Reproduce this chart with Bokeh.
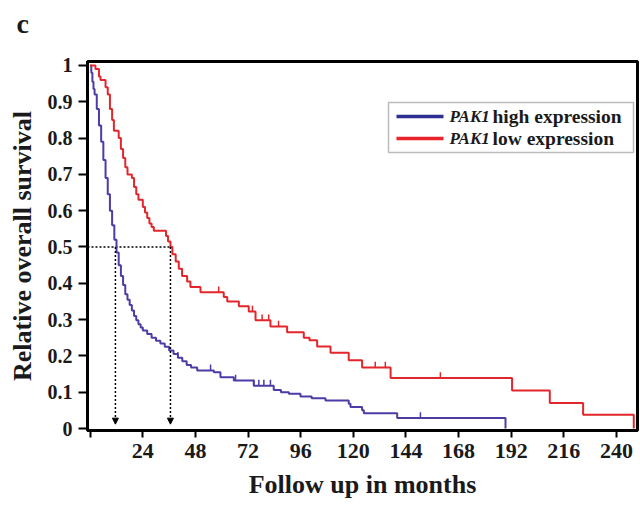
import numpy as np
from bokeh.plotting import figure
from bokeh.models import Range1d, FixedTicker, Label, BoxAnnotation, Arrow, NormalHead, Title
from bokeh.embed import file_html
from bokeh.resources import INLINE

# ---- data ----
high_t = [0, 0.5, 1, 1.5, 2, 3, 4, 5, 6, 7, 8, 9, 10, 11, 12, 13, 14, 15, 16, 17, 18,
          19, 20, 21, 22, 23, 24, 26, 28, 30, 32, 34, 36, 38, 40, 42, 44, 46, 48.8,
          56.4, 59.4, 65.5, 74.6, 83.7, 87, 90.6, 95.9, 101, 107.3, 117.9, 118.7, 124,
          124.8, 140, 189.4]
high_s = [1.0, 0.98, 0.955, 0.935, 0.92, 0.88, 0.835, 0.79, 0.74, 0.69, 0.645, 0.6,
          0.56, 0.52, 0.485, 0.45, 0.42, 0.395, 0.37, 0.355, 0.34, 0.325, 0.31, 0.298,
          0.287, 0.278, 0.27, 0.26, 0.25, 0.242, 0.234, 0.225, 0.215, 0.205, 0.195,
          0.185, 0.175, 0.168, 0.16, 0.155, 0.141, 0.132, 0.118, 0.106, 0.1, 0.096,
          0.088, 0.083, 0.077, 0.068, 0.059, 0.05, 0.042, 0.029, 0.0]

low_t = [0, 2.4, 4, 4.7, 7, 8, 9, 10, 10.8, 13, 14, 15, 16, 17, 19, 20, 21, 22, 24,
         25, 26, 27, 28, 29, 34.6, 35.5, 36.6, 37.5, 39, 40.4, 41.9, 44.2, 45.7, 50.3,
         60.9, 62.5, 67.8, 72.3, 75.4, 82.2, 89.8, 97.4, 100, 103.5, 109.6, 117.9, 124,
         137, 192.4, 209.6, 224.8, 247.9]
low_s = [1.0, 0.99, 0.97, 0.96, 0.94, 0.92, 0.88, 0.85, 0.82, 0.8, 0.77, 0.745, 0.72,
         0.7, 0.69, 0.665, 0.645, 0.63, 0.61, 0.595, 0.58, 0.565, 0.555, 0.545, 0.53,
         0.515, 0.5, 0.48, 0.46, 0.44, 0.42, 0.405, 0.39, 0.375, 0.362, 0.35, 0.337,
         0.322, 0.298, 0.281, 0.265, 0.25, 0.243, 0.226, 0.209, 0.188, 0.168, 0.139,
         0.105, 0.07, 0.038, 0.0]

high_censor = [40, 54.9, 66.3, 74.6, 76.9, 79.2, 82.2, 150.6]
low_censor = [58.6, 74, 78.4, 81.4, 85.9, 130, 134.6, 159.7]

median_high = 11.5
median_low = 36.6
median_level = 0.5

x_ticks = [0, 24, 48, 72, 96, 120, 144, 168, 192, 216, 240]
x_labels = ["", "24", "48", "72", "96", "120", "144", "168", "192", "216", "240"]
y_ticks = [0, 0.1, 0.2, 0.3, 0.4, 0.5, 0.6, 0.7, 0.8, 0.9, 1]
y_labels = ["0", "0.1", "0.2", "0.3", "0.4", "0.5", "0.6", "0.7", "0.8", "0.9", "1"]

series_names = ["high expression", "low expression"]
gene = "PAK1"

BLUE = "#4b3ca6"
RED = "#e3262b"
LEG_BLUE = "#2e2f92"
LEG_RED = "#e8232a"
FONT = "Liberation Serif"

p = figure(width=640, height=509, output_backend="svg", toolbar_location=None,
           x_range=Range1d(-1.23, 249.6), y_range=Range1d(-0.0055, 1.011),
           min_border_left=87, min_border_top=61, min_border_right=3,
           min_border_bottom=79)
p.grid.visible = False
p.outline_line_color = "black"
p.outline_line_width = 3
p.background_fill_color = "white"
p.border_fill_color = "white"

for ax in (p.xaxis[0], p.yaxis[0]):
    ax.axis_line_width = 3
    ax.axis_line_color = "black"
    ax.major_tick_line_width = 2
    ax.major_tick_line_color = "black"
    ax.minor_tick_line_color = None
    ax.major_tick_in = 0
    ax.major_label_text_font = FONT
    ax.major_label_text_font_style = "bold"
    ax.major_label_text_color = "#1a1a1a"
    ax.axis_label_text_font = FONT
    ax.axis_label_text_font_style = "bold"
    ax.axis_label_text_color = "#1a1a1a"

p.xaxis.ticker = FixedTicker(ticks=x_ticks)
p.xaxis.major_label_overrides = dict(zip(x_ticks, x_labels))
p.xaxis.major_tick_out = 7
p.xaxis.major_label_standoff = 6
p.xaxis.major_label_text_font_size = "22px"
p.xaxis.axis_label = "Follow up in months"
p.xaxis.axis_label_text_font_size = "26px"
p.xaxis.axis_label_standoff = 9

p.yaxis.ticker = FixedTicker(ticks=y_ticks)
p.yaxis.major_label_overrides = dict(zip(y_ticks, y_labels))
p.yaxis.major_tick_out = 9
p.yaxis.major_label_standoff = 6
p.yaxis.major_label_text_font_size = "20px"
p.yaxis.axis_label = "Relative overall survival"
p.yaxis.axis_label_text_font_size = "26px"
p.yaxis.axis_label_standoff = 8

# panel letter
p.add_layout(Title(text="c", align="left", offset=-71, standoff=6,
                   vertical_align="top",
                   padding=dict(left=0, right=0, top=0, bottom=18),
                   text_font=FONT, text_font_style="bold", text_font_size="28px",
                   text_color="#1a1a1a"), "above")

# median guide lines
p.segment(x0=[p.x_range.start], y0=[median_level], x1=[median_low], y1=[median_level],
          line_color="black", line_width=1.5, line_dash="2 2")
for m in (median_high, median_low):
    p.add_layout(Arrow(x_start=m, y_start=median_level, x_end=m, y_end=0.012,
                       line_color="black", line_width=1.5, line_dash="2 2",
                       end=NormalHead(size=6, fill_color="black", line_color="black")))

# survival curves
p.step(high_t, high_s, mode="after", line_color=BLUE, line_width=2)
p.step(low_t, low_s, mode="after", line_color=RED, line_width=2)

def level_at(ts, ss, c):
    i = np.searchsorted(np.array(ts), c, side="right") - 1
    return ss[i]

hc_y = [level_at(high_t, high_s, c) for c in high_censor]
lc_y = [level_at(low_t, low_s, c) for c in low_censor]
p.segment(x0=high_censor, y0=hc_y, x1=high_censor, y1=[y + 0.016 for y in hc_y],
          line_color=BLUE, line_width=1.5)
p.segment(x0=low_censor, y0=lc_y, x1=low_censor, y1=[y + 0.016 for y in lc_y],
          line_color=RED, line_width=1.5)

# legend (manual, to allow italic gene name)
p.add_layout(BoxAnnotation(left=301, right=546, top=328, bottom=278,
                           left_units="screen", right_units="screen",
                           top_units="screen", bottom_units="screen",
                           fill_color="white", fill_alpha=1.0,
                           line_color="#222222", line_width=1.5))
rows = [(314, LEG_BLUE, series_names[0]), (292, LEG_RED, series_names[1])]
for sy, col, name in rows:
    p.add_layout(Arrow(x_start=309, y_start=sy, x_end=356, y_end=sy,
                       start_units="screen", end_units="screen", start=None, end=None,
                       line_color=col, line_width=3.5))
    p.add_layout(Label(x=362, y=sy, x_units="screen", y_units="screen", text=gene,
                       text_font=FONT, text_font_style="bold italic",
                       text_font_size="17px", text_baseline="middle",
                       text_color="#1a1a1a"))
    p.add_layout(Label(x=405, y=sy, x_units="screen", y_units="screen", text=name,
                       text_font=FONT, text_font_style="bold",
                       text_font_size="19.5px", text_baseline="middle",
                       text_color="#1a1a1a"))

open("out.html", "w").write(file_html(p, INLINE))
